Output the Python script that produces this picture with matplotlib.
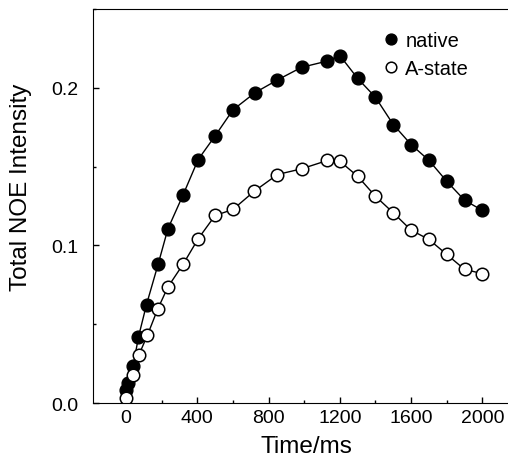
import numpy as np
import matplotlib.pyplot as plt
from matplotlib.ticker import MultipleLocator

plt.rcParams['font.family'] = ['Liberation Sans', 'DejaVu Sans']

# data
t_native = [0, 10, 40, 70, 115, 180, 235, 320, 405, 500, 600, 725, 850, 985,
            1130, 1200, 1300, 1400, 1500, 1600, 1700, 1800, 1900, 2000]
noe_native = [0.008, 0.013, 0.0235, 0.042, 0.0625, 0.088, 0.1105, 0.132, 0.1545,
              0.1695, 0.186, 0.197, 0.205, 0.213, 0.217, 0.2205, 0.206, 0.194,
              0.1767, 0.164, 0.154, 0.1407, 0.1287, 0.1222]

t_astate = [0, 40, 72, 120, 177, 235, 320, 405, 500, 600, 720, 850, 985,
            1130, 1200, 1300, 1400, 1500, 1600, 1700, 1800, 1900, 2000]
noe_astate = [0.0035, 0.0176, 0.0305, 0.043, 0.0594, 0.0736, 0.088, 0.1042,
              0.119, 0.1228, 0.1344, 0.145, 0.1486, 0.1539, 0.1534, 0.1439,
              0.1312, 0.1207, 0.1097, 0.1038, 0.0943, 0.0848, 0.0821]

fig = plt.figure(figsize=(5.08, 4.60), dpi=100)
ax = fig.add_axes([0.1825, 0.1217, 0.8175, 0.8565])

ax.plot(t_native, noe_native, '-', color='k', lw=1.0, marker='o', ms=9.2,
        mfc='k', mec='k', label='native')
ax.plot(t_astate, noe_astate, '-', color='k', lw=1.0, marker='o', ms=9.0,
        mfc='white', mec='k', mew=1.1, label='A-state')

ax.set_xlim(-187, 2144)
ax.set_ylim(0, 0.25)
ax.xaxis.set_major_locator(MultipleLocator(400))
ax.xaxis.set_minor_locator(MultipleLocator(200))
ax.yaxis.set_major_locator(MultipleLocator(0.1))
ax.yaxis.set_minor_locator(MultipleLocator(0.05))
ax.yaxis.set_major_formatter(plt.FuncFormatter(lambda v, p: f"{v:.1f}"))

ax.tick_params(which='both', direction='in', labelsize=14, width=1)
ax.tick_params(which='major', length=4)
ax.tick_params(which='minor', length=2)
ax.tick_params(axis='y', pad=10)
ax.tick_params(axis='x', pad=4)
ax.spines['right'].set_visible(False)

ax.set_xlabel('Time/ms', fontsize=17.5, va='top')
ax.xaxis.set_label_coords(0.514, -0.08)
ax.set_ylabel('Total NOE Intensity', fontsize=17.5)
ax.yaxis.set_label_coords(-0.145, 0.55)

leg = ax.legend(loc='upper right', bbox_to_anchor=(0.95, 0.99), frameon=False,
                fontsize=14.5, handlelength=0.6, handletextpad=0.4,
                labelspacing=0.45, markerscale=0.85)
for h in leg.legend_handles:
    h.set_linestyle('')

fig.savefig('out.png', dpi=100)
